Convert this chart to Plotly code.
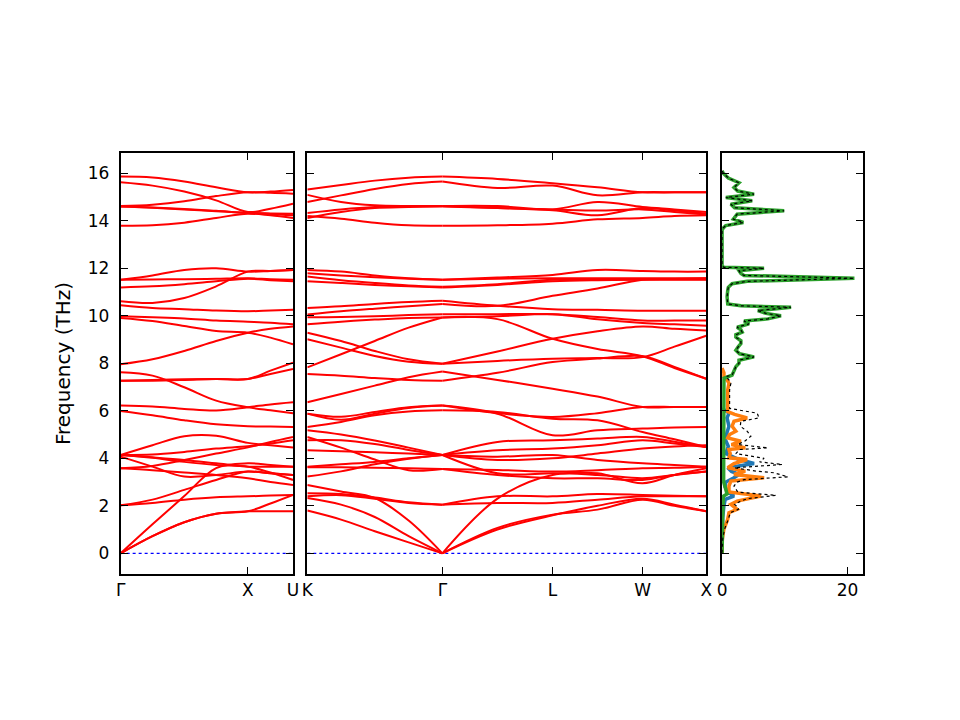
import plotly.graph_objects as go

# ---- band structure, panel 1: Γ - X - U ----
p1_k = [0, 0.25, 0.5, 0.75, 1.0, 1.177, 1.354]
p1_tick_k = [0, 1.0, 1.354]
p1_tick_text = ["Γ", "X", "U"]
p1_bands = [
    [15.86, 15.82, 15.65, 15.41, 15.20, 15.23, 15.30],
    [15.62, 15.48, 15.23, 14.86, 14.37, 14.51, 14.72],
    [14.62, 14.68, 14.82, 15.04, 15.20, 15.18, 15.14],
    [14.60, 14.55, 14.48, 14.40, 14.33, 14.29, 14.23],
    [13.79, 13.81, 13.92, 14.12, 14.30, 14.23, 14.12],
    [14.60, 14.56, 14.50, 14.42, 14.33, 14.31, 14.30],
    [11.52, 11.70, 11.93, 12.00, 11.86, 11.89, 11.93],
    [11.52, 11.53, 11.54, 11.56, 11.58, 11.54, 11.52],
    [11.19, 11.24, 11.33, 11.45, 11.56, 11.50, 11.45],
    [10.61, 10.54, 10.75, 11.24, 11.86, 11.89, 11.93],
    [10.44, 10.33, 10.28, 10.22, 10.19, 10.22, 10.25],
    [9.98, 9.94, 9.89, 9.80, 9.75, 9.71, 9.64],
    [9.91, 9.78, 9.57, 9.36, 9.29, 9.08, 8.80],
    [7.96, 8.17, 8.52, 8.94, 9.29, 9.45, 9.55],
    [7.62, 7.48, 6.99, 6.43, 6.15, 6.02, 5.90],
    [7.27, 7.27, 7.30, 7.34, 7.34, 7.69, 8.03],
    [7.27, 7.30, 7.33, 7.34, 7.34, 7.55, 7.76],
    [6.22, 6.18, 6.08, 6.01, 6.15, 6.27, 6.36],
    [5.99, 5.81, 5.60, 5.43, 5.35, 5.34, 5.32],
    [4.14, 4.55, 4.93, 4.95, 4.65, 4.55, 4.46],
    [4.14, 4.16, 4.27, 4.41, 4.51, 4.62, 4.76],
    [4.14, 4.04, 3.93, 3.79, 3.65, 3.65, 3.65],
    [4.07, 3.65, 3.23, 3.30, 3.44, 3.37, 3.30],
    [3.58, 3.68, 3.93, 4.20, 4.46, 4.69, 4.90],
    [4.14, 4.02, 3.85, 3.72, 3.65, 3.40, 3.09],
    [3.58, 3.50, 3.40, 3.30, 3.16, 3.00, 2.88],
    [0.00, 1.22, 2.41, 3.59, 3.79, 3.72, 3.65],
    [0.00, 0.72, 1.31, 1.67, 1.77, 1.77, 1.77],
    [0.00, 0.72, 1.31, 1.67, 1.77, 2.10, 2.46],
    [2.02, 2.12, 2.26, 2.36, 2.40, 2.43, 2.46],
    [2.02, 2.26, 2.67, 3.09, 3.44, 3.37, 3.30],
]

# ---- band structure, panel 2: K - Γ - L - W - X ----
p2_k_left = [0, 0.265, 0.53, 0.796, 1.061]
p2_k_right = [1.061, 1.494, 1.927, 2.28, 2.634, 2.884, 3.134]
p2_tick_k = [0, 1.061, 1.927, 2.634, 3.134]
p2_tick_text = ["K", "Γ", "L", "W", "X"]

# K -> Γ
p2_left_bands = [
    [15.32, 15.51, 15.69, 15.81, 15.86],
    [14.79, 15.07, 15.34, 15.55, 15.65],
    [15.09, 14.79, 14.65, 14.62, 14.62],
    [14.33, 14.48, 14.58, 14.61, 14.62],
    [14.12, 14.37, 14.54, 14.58, 14.60],
    [14.20, 14.09, 13.92, 13.81, 13.79],
    [11.93, 11.86, 11.70, 11.58, 11.52],
    [11.79, 11.70, 11.62, 11.56, 11.52],
    [11.65, 11.50, 11.38, 11.28, 11.22],
    [11.45, 11.38, 11.30, 11.24, 11.19],
    [10.33, 10.40, 10.50, 10.58, 10.63],
    [10.05, 10.19, 10.30, 10.40, 10.50],
    [9.94, 9.95, 9.98, 10.03, 10.07],
    [9.64, 9.75, 9.84, 9.91, 9.93],
    [9.29, 8.94, 8.52, 8.17, 7.98],
    [9.01, 8.66, 8.31, 8.07, 7.98],
    [7.83, 8.38, 8.94, 9.50, 9.93],
    [6.36, 6.71, 7.06, 7.41, 7.65],
    [7.55, 7.48, 7.38, 7.30, 7.27],
    [5.88, 5.62, 5.88, 6.12, 6.22],
    [5.88, 5.75, 5.95, 6.15, 6.22],
    [5.32, 5.53, 5.81, 5.97, 6.02],
    [5.18, 5.00, 4.75, 4.45, 4.14],
    [4.76, 4.76, 4.60, 4.35, 4.14],
    [4.34, 4.30, 4.25, 4.20, 4.14],
    [3.65, 3.75, 3.85, 4.00, 4.14],
    [3.23, 3.45, 3.75, 3.98, 4.14],
    [3.62, 3.62, 3.60, 3.58, 3.55],
    [4.90, 4.45, 3.95, 3.50, 3.55],
    [2.88, 2.60, 2.33, 1.38, 0.00],
    [1.80, 1.42, 0.93, 0.46, 0.00],
    [2.33, 2.05, 1.53, 0.72, 0.00],
    [2.53, 2.50, 2.35, 2.15, 2.05],
    [2.40, 2.45, 2.30, 2.12, 2.05],
]

# Γ -> L -> W -> X
p2_right_bands = [
    [15.86, 15.76, 15.58, 15.41, 15.20, 15.20, 15.20],
    [15.65, 15.38, 15.48, 15.07, 15.20, 15.20, 15.20],
    [14.62, 14.62, 14.48, 14.79, 14.58, 14.48, 14.37],
    [14.62, 14.54, 14.44, 14.23, 14.54, 14.43, 14.30],
    [14.60, 14.54, 14.48, 14.43, 14.48, 14.37, 14.26],
    [13.79, 13.81, 13.88, 14.06, 14.12, 14.20, 14.23],
    [11.52, 11.61, 11.72, 11.93, 11.89, 11.86, 11.86],
    [11.52, 11.56, 11.58, 11.58, 11.58, 11.58, 11.58],
    [11.22, 11.33, 11.52, 11.54, 11.54, 11.54, 11.54],
    [11.19, 11.30, 11.45, 11.50, 11.52, 11.52, 11.52],
    [10.63, 10.42, 10.28, 10.25, 10.21, 10.21, 10.21],
    [10.50, 10.42, 10.84, 11.15, 11.52, 11.55, 11.58],
    [10.07, 10.07, 10.07, 9.95, 9.80, 9.80, 9.80],
    [9.93, 9.98, 10.07, 9.85, 9.70, 9.64, 9.58],
    [7.98, 8.50, 9.03, 9.35, 9.55, 9.45, 9.38],
    [7.98, 8.10, 8.19, 8.22, 8.26, 8.70, 9.16],
    [9.93, 9.86, 9.03, 8.60, 8.30, 7.80, 7.35],
    [7.27, 7.60, 8.05, 8.20, 8.30, 7.85, 7.35],
    [7.65, 7.30, 6.93, 6.60, 6.16, 6.16, 6.16],
    [6.22, 5.88, 4.97, 5.18, 5.25, 5.30, 5.32],
    [6.22, 5.90, 5.74, 5.90, 6.16, 6.16, 6.16],
    [6.02, 5.95, 5.67, 5.60, 5.11, 4.80, 4.48],
    [4.14, 4.69, 4.76, 4.83, 4.90, 4.70, 4.48],
    [4.14, 4.34, 4.41, 4.55, 4.76, 4.62, 4.48],
    [4.14, 4.07, 4.14, 3.93, 3.79, 3.72, 3.65],
    [4.14, 3.93, 4.00, 4.20, 4.41, 4.50, 4.55],
    [4.14, 3.37, 3.37, 3.37, 2.95, 3.30, 3.58],
    [3.55, 3.30, 3.16, 3.16, 3.09, 3.30, 3.44],
    [3.55, 3.51, 3.44, 3.50, 3.58, 3.60, 3.65],
    [0.00, 2.30, 3.30, 3.30, 3.16, 3.30, 3.44],
    [0.00, 1.07, 1.63, 1.84, 2.26, 2.00, 1.77],
    [0.00, 1.00, 1.60, 2.00, 2.30, 2.05, 1.77],
    [2.05, 2.40, 2.40, 2.50, 2.46, 2.42, 2.40],
    [2.05, 2.12, 2.12, 2.26, 2.40, 2.40, 2.40],
]

# ---- phonon DOS (frequency in THz, states) ----
dos_green_f = [16.1, 16.0, 15.8, 15.6, 15.4, 15.25, 15.12, 14.98, 14.84, 14.7, 14.55, 14.42,
               14.28, 14.15, 14.07, 13.93, 13.8, 13.7, 13.6, 12.1, 12.04, 12.0, 11.9, 11.78,
               11.7, 11.58, 11.45, 11.35, 11.2, 11.06, 10.8, 10.5, 10.42, 10.36, 10.22, 10.1,
               10.0, 9.87, 9.78, 9.66, 9.52, 9.41, 9.31, 9.2, 9.1, 8.95, 8.83, 8.7, 8.55, 8.4,
               8.27, 8.13, 8.0, 7.86, 7.7, 7.5, 7.37, 7.2, 6.0, 4.0, 3.0, 2.5, 2.4, 1.5, 0.0]
dos_green = [0.0, 0.2, 1.0, 2.7, 1.9, 2.5, 5.1, 0.6, 4.8, 1.4, 2.0, 9.9,
             2.4, 2.0, 1.8, 3.4, 0.6, 0.2, 0.0, 0.0, 0.3, 6.7, 2.7, 3.0,
             3.5, 21.1, 4.0, 1.6, 1.0, 0.9, 0.8, 0.9, 3.0, 11.0, 5.7, 7.0,
             9.4, 7.3, 3.5, 4.3, 2.4, 3.0, 3.2, 2.2, 2.2, 3.0, 3.0, 2.6, 2.2, 2.8,
             5.1, 2.7, 2.7, 2.2, 1.9, 1.6, 0.3, 0.3, 0.25, 0.3, 0.25, 0.8, 0.2, 0.1, 0.0]

dos_orange_f = [7.8, 7.6, 7.44, 7.3, 7.16, 6.88, 6.6, 6.32, 5.97, 5.85, 5.7, 5.56, 5.35,
                5.14, 5.0, 4.86, 4.72, 4.58, 4.44, 4.37, 4.2, 4.02, 3.95, 3.78, 3.6, 3.46,
                3.32, 3.18, 3.04, 2.83, 2.58, 2.41, 2.2, 2.06, 1.85, 1.71, 1.43, 1.02, 0.6, 0.0]
dos_orange = [0.0, 0.3, 0.3, 0.8, 1.1, 0.9, 0.9, 0.9, 0.9, 2.0, 4.0, 1.9, 1.6,
              2.2, 1.2, 0.9, 3.0, 1.5, 3.7, 1.1, 1.3, 1.1, 4.0, 1.9, 0.9, 3.7,
              1.9, 6.7, 1.4, 1.1, 1.1, 6.2, 2.4, 1.4, 2.4, 1.1, 0.9, 0.3, 0.05, 0.0]

dos_blue_f = [6.1, 5.9, 5.7, 5.35, 5.1, 4.8, 4.5, 4.2, 3.95, 3.78, 3.6, 3.45, 3.32, 3.18,
              3.0, 2.8, 2.55, 2.41, 2.27, 2.0, 1.5, 0.0]
dos_blue = [0.0, 1.1, 0.8, 1.1, 0.8, 0.5, 1.0, 0.6, 2.7, 5.1, 0.9, 1.5, 2.7, 1.9,
            0.6, 0.5, 1.1, 1.9, 0.5, 0.3, 0.1, 0.0]

dos_total_f = dos_green_f[:56] + [7.44, 7.3, 7.16, 6.88, 6.6, 6.32, 6.1, 5.9, 5.7, 5.56,
                                  5.35, 5.14, 4.93, 4.72, 4.58, 4.44, 4.37, 4.2, 4.0, 3.85,
                                  3.74, 3.6, 3.46, 3.39, 3.22, 3.1, 3.0, 2.83, 2.58, 2.44,
                                  2.3, 2.2, 2.06, 1.92, 1.85, 1.71, 1.43, 1.02, 0.6, 0.0]
dos_total = dos_green[:56] + [0.6, 1.1, 1.4, 1.2, 1.2, 1.2, 1.2, 5.6, 5.9, 3.0,
                              2.9, 4.0, 4.6, 3.6, 2.5, 7.3, 2.8, 2.2, 6.7, 6.0,
                              9.6, 2.0, 5.5, 8.3, 10.5, 3.5, 2.4, 1.9, 2.5, 8.6,
                              4.0, 3.0, 2.0, 2.6, 2.6, 1.3, 1.0, 0.4, 0.1, 0.0]


def band_trace(k, bands, xa, ya):
    xs, ys = [], []
    for b in bands:
        xs += k + [None]
        ys += b + [None]
    return go.Scatter(x=xs, y=ys, mode="lines", xaxis=xa, yaxis=ya,
                      line=dict(color="#ff0000", width=2, shape="spline"),
                      showlegend=False, hoverinfo="skip")


fig = go.Figure()

# zero line (dotted blue) under the bands
fig.add_trace(go.Scatter(x=[0, p1_k[-1]], y=[0, 0], mode="lines", xaxis="x", yaxis="y",
                         line=dict(color="blue", width=1.2, dash="dot"), showlegend=False))
fig.add_trace(go.Scatter(x=[0, p2_k_right[-1]], y=[0, 0], mode="lines", xaxis="x2", yaxis="y2",
                         line=dict(color="blue", width=1.2, dash="dot"), showlegend=False))

fig.add_trace(band_trace(p1_k, p1_bands, "x", "y"))
fig.add_trace(band_trace(p2_k_left, p2_left_bands, "x2", "y2"))
fig.add_trace(band_trace(p2_k_right, p2_right_bands, "x2", "y2"))

for vals, freqs, col in [(dos_blue, dos_blue_f, "#1f77b4"),
                         (dos_orange, dos_orange_f, "#ff7f0e"),
                         (dos_green, dos_green_f, "#2ca02c")]:
    fig.add_trace(go.Scatter(x=vals, y=freqs, mode="lines", xaxis="x3", yaxis="y3",
                             line=dict(color=col, width=3.5), showlegend=False))
fig.add_trace(go.Scatter(x=dos_total, y=dos_total_f, mode="lines", xaxis="x3", yaxis="y3",
                         line=dict(color="black", width=1.2, dash="dot"), showlegend=False))

yrange = [-0.87, 16.85]
ydom = [0.2139, 0.7985]
frame = dict(showline=True, linecolor="black", linewidth=1.7, mirror="ticks",
             ticks="inside", ticklen=7, tickwidth=1.3, tickcolor="black",
             showgrid=False, zeroline=False)

fig.update_layout(
    width=960, height=720,
    margin=dict(l=0, r=0, t=0, b=0),
    paper_bgcolor="white", plot_bgcolor="white",
    font=dict(family="DejaVu Sans", size=17, color="black"),
    xaxis=dict(domain=[0.1125, 0.2943], range=[0, p1_k[-1]],
               tickvals=p1_tick_k, ticktext=p1_tick_text, anchor="y", **frame),
    xaxis2=dict(domain=[0.3094, 0.7302], range=[0, p2_k_right[-1]],
                tickvals=p2_tick_k, ticktext=p2_tick_text, anchor="y2", **frame),
    xaxis3=dict(domain=[0.7469, 0.8958], range=[0, 22.5],
                tickvals=[0, 20], anchor="y3", **frame),
    yaxis=dict(domain=ydom, range=yrange, tickvals=list(range(0, 17, 2)), anchor="x",
               ticklabelstandoff=6,
               title=dict(text="Frequency (THz)", standoff=12), **frame),
    yaxis2=dict(domain=ydom, range=yrange, tickvals=list(range(0, 17, 2)), anchor="x2",
                showticklabels=False, **frame),
    yaxis3=dict(domain=ydom, range=yrange, tickvals=list(range(0, 17, 2)), anchor="x3",
                showticklabels=False, **frame),
)

fig.write_html("out.html")
